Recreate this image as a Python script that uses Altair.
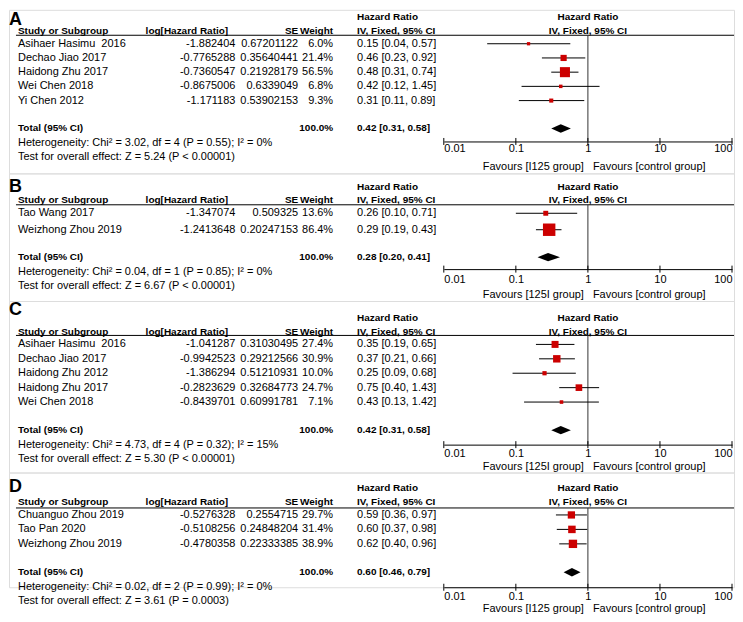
import altair as alt
import pandas as pd

FONT = "Liberation Sans"

# ---------------- data ----------------
a_study = ["Asihaer Hasimu\u00a0 2016", "Dechao Jiao 2017", "Haidong Zhu 2017", "Wei Chen 2018", "Yi Chen 2012"]
a_loghr = [-1.882404, -0.7765288, -0.7360547, -0.8675006, -1.171183]
a_se = ["0.67201122", "0.35640441", "0.21928179", "0.6339049", "0.53902153"]
a_weight = [6.0, 21.4, 56.5, 6.8, 9.3]
a_hr = [0.15, 0.46, 0.48, 0.42, 0.31]
a_lo = [0.04, 0.23, 0.31, 0.12, 0.11]
a_hi = [0.57, 0.92, 0.74, 1.45, 0.89]
a_total = [0.42, 0.31, 0.58]
a_het = "Heterogeneity: Chi\u00b2 = 3.02, df = 4 (P = 0.55); I\u00b2 = 0%"
a_test = "Test for overall effect: Z = 5.24 (P < 0.00001)"
a_fav = "Favours [I125 group]"

b_study = ["Tao Wang 2017", "Weizhong Zhou 2019"]
b_loghr = [-1.347074, -1.2413648]
b_se = ["0.509325", "0.20247153"]
b_weight = [13.6, 86.4]
b_hr = [0.26, 0.29]
b_lo = [0.10, 0.19]
b_hi = [0.71, 0.43]
b_total = [0.28, 0.20, 0.41]
b_het = "Heterogeneity: Chi\u00b2 = 0.04, df = 1 (P = 0.85); I\u00b2 = 0%"
b_test = "Test for overall effect: Z = 6.67 (P < 0.00001)"
b_fav = "Favours [125I group]"

c_study = ["Asihaer Hasimu\u00a0 2016", "Dechao Jiao 2017", "Haidong Zhu 2012", "Haidong Zhu 2017", "Wei Chen 2018"]
c_loghr = [-1.041287, -0.9942523, -1.386294, -0.2823629, -0.8439701]
c_se = ["0.31030495", "0.29212566", "0.51210931", "0.32684773", "0.60991781"]
c_weight = [27.4, 30.9, 10.0, 24.7, 7.1]
c_hr = [0.35, 0.37, 0.25, 0.75, 0.43]
c_lo = [0.19, 0.21, 0.09, 0.40, 0.13]
c_hi = [0.65, 0.66, 0.68, 1.43, 1.42]
c_total = [0.42, 0.31, 0.58]
c_het = "Heterogeneity: Chi\u00b2 = 4.73, df = 4 (P = 0.32); I\u00b2 = 15%"
c_test = "Test for overall effect: Z = 5.30 (P < 0.00001)"
c_fav = "Favours [125I group]"

d_study = ["Chuanguo Zhou 2019", "Tao Pan 2020", "Weizhong Zhou 2019"]
d_loghr = [-0.5276328, -0.5108256, -0.4780358]
d_se = ["0.2554715", "0.24848204", "0.22333385"]
d_weight = [29.7, 31.4, 38.9]
d_hr = [0.59, 0.60, 0.62]
d_lo = [0.36, 0.37, 0.40]
d_hi = [0.97, 0.98, 0.96]
d_total = [0.60, 0.46, 0.79]
d_het = "Heterogeneity: Chi\u00b2 = 0.02, df = 2 (P = 0.99); I\u00b2 = 0%"
d_test = "Test for overall effect: Z = 3.61 (P = 0.0003)"
d_fav = "Favours [I125 group]"

ticks = [0.01, 0.1, 1, 10, 100]

# ---------------- layout (pixels, image coords) ----------------
W = 727
XR = [436, 725]
FS = 11      # regular text size
FB = 10      # bold header size
layouts = {
    "A": dict(T=8, bottom=172, axis=140, y0=42, r=14.25, letter=18, hrhead=15, colhead=29, line=33.5,
              total=127, het=142, test=156, lab=1, fav=166, k=1.8),
    "B": dict(T=172, bottom=300, axis=268, y0=212, r=16.5, letter=186, hrhead=186, colhead=199, line=203.5,
              total=256, het=271, test=285, lab=4, fav=294, k=2.3),
    "C": dict(T=300, bottom=472, axis=444, y0=343.5, r=14.45, letter=309, hrhead=317, colhead=331, line=334.5,
              total=429.5, het=444, test=458, lab=3, fav=466, k=1.4),
    "D": dict(T=472, bottom=587, axis=587, y0=514.5, r=14.5, letter=486, hrhead=487, colhead=502, line=507.5,
              total=572, het=587, test=601, lab=3, fav=609, k=1.3),
}

one = pd.DataFrame({"k": [0]})


def txt(text, x, y, align="left", bold=False, size=FS):
    return alt.Chart(one).mark_text(
        text=text, align=align, baseline="middle", font=FONT, fontSize=size,
        fontWeight="bold" if bold else "normal", color="black"
    ).encode(x=alt.value(x), y=alt.value(y))


def panel(letter, study, loghr, se, weight, hr, lo, hi, total, het, test, fav):
    L = layouts[letter]
    T = L["T"]
    H = L["bottom"] - T
    AX = L["axis"] - T
    r = L["r"]
    off = L["y0"] - T
    ys = alt.Scale(domain=[(H - off) / r, -off / r], nice=False, zero=False)
    xs = alt.Scale(type="log", domain=[0.01, 100], range=XR, nice=False)
    xaxis = alt.Axis(values=ticks, format="~g", title=None, grid=False, ticks=False, tickSize=0,
                     domain=True, domainColor="black", domainWidth=1, labelPadding=L["lab"],
                     labelFont=FONT, labelFontSize=FS, labelColor="black", labelFlush=True,
                     labelOverlap=False, orient="bottom", offset=AX - H)

    n = len(study)
    df = pd.DataFrame({
        "row": list(range(n)),
        "study": study,
        "loghr": [repr(v) for v in loghr],
        "se": se,
        "w": [f"{v:.1f}%" for v in weight],
        "weight": weight,
        "hrci": [f"{a:.2f} [{b:.2f}, {c:.2f}]" for a, b, c in zip(hr, lo, hi)],
        "hr": hr, "lo": lo, "hi": hi,
    })
    trow = (L["total"] - L["y0"]) / r
    tot = pd.DataFrame({"row": [trow], "a": ["Total (95% CI)"], "b": ["100.0%"],
                        "c": [f"{total[0]:.2f} [{total[1]:.2f}, {total[2]:.2f}]"]})
    hh = 4.2 / r
    dia = pd.DataFrame({"x": [total[1], total[0], total[2]],
                        "y1": [trow, trow - hh, trow], "y2": [trow, trow + hh, trow]})
    tk = pd.DataFrame({"t": ticks})
    unit = pd.DataFrame({"v": [1]})

    Y = lambda f: alt.Y(f, scale=ys, axis=None)

    def col(field, x, align, bold=False, data=df):
        return alt.Chart(data).mark_text(
            align=align, baseline="middle", font=FONT, fontSize=FB if bold else FS,
            fontWeight="bold" if bold else "normal", color="black"
        ).encode(x=alt.value(x), y=Y("row:Q"), text=f"{field}:N")

    def ftxt(text, y, align="center", bold=False, dx=0):
        return alt.Chart(unit).mark_text(
            text=text, align=align, baseline="middle", font=FONT, fontSize=FB if bold else FS,
            fontWeight="bold" if bold else "normal", color="black", dx=dx
        ).encode(x=alt.X("v:Q", scale=xs, axis=xaxis), y=alt.value(y))

    layers = [
        alt.Chart(one).mark_rule(color="black", strokeWidth=1).encode(
            x=alt.value(7), x2=alt.value(W), y=alt.value(L["line"] - T)),
        alt.Chart(unit).mark_rule(color="#333333", strokeWidth=1).encode(
            x=alt.X("v:Q", scale=xs, axis=xaxis), y=alt.value(L["line"] - T), y2=alt.value(AX)),
        alt.Chart(tk).mark_rule(color="black", strokeWidth=1).encode(
            x=alt.X("t:Q", scale=xs, axis=xaxis), y=alt.value(AX - 3.5), y2=alt.value(AX + 3.5)),
        alt.Chart(df).mark_rule(color="black", strokeWidth=1).encode(
            x=alt.X("lo:Q", scale=xs, axis=xaxis), x2="hi:Q", y=Y("row:Q")),
        alt.Chart(df).mark_square(filled=True, color="#cc0000", opacity=1).encode(
            x=alt.X("hr:Q", scale=xs, axis=xaxis), y=Y("row:Q"),
            size=alt.Size("weight:Q", scale=alt.Scale(domain=[0, 100], range=[0, 100 * L["k"]]), legend=None)),
        alt.Chart(dia).mark_area(color="black", orient="vertical", opacity=1).encode(
            x=alt.X("x:Q", scale=xs, axis=xaxis), y=Y("y1:Q"), y2="y2:Q"),
        col("study", 9, "left"),
        col("loghr", 227, "right"),
        col("se", 290, "right"),
        col("w", 325, "right"),
        col("hrci", 349, "left"),
        col("a", 9, "left", True, tot),
        col("b", 325, "right", True, tot),
        col("c", 349, "left", True, tot),
        txt(letter, 0, L["letter"] - T, bold=True, size=18),
        txt("Hazard Ratio", 349, L["hrhead"] - T, bold=True, size=FB),
        txt("Study or Subgroup", 9, L["colhead"] - T, bold=True, size=FB),
        txt("log[Hazard Ratio]", 137, L["colhead"] - T, bold=True, size=FB),
        txt("SE", 290, L["colhead"] - T, align="right", bold=True, size=FB),
        txt("Weight", 325, L["colhead"] - T, align="right", bold=True, size=FB),
        txt("IV, Fixed, 95% CI", 349, L["colhead"] - T, bold=True, size=FB),
        txt(het, 9, L["het"] - T),
        txt(test, 9, L["test"] - T),
        ftxt("Hazard Ratio", L["hrhead"] - T, bold=True),
        ftxt("IV, Fixed, 95% CI", L["colhead"] - T, bold=True),
        ftxt(fav, L["fav"] - T, align="right", dx=-4),
        ftxt("Favours [control group]", L["fav"] - T, align="left", dx=5),
    ]
    return alt.layer(*layers).properties(width=W, height=H)


pA = panel("A", a_study, a_loghr, a_se, a_weight, a_hr, a_lo, a_hi, a_total, a_het, a_test, a_fav)
pB = panel("B", b_study, b_loghr, b_se, b_weight, b_hr, b_lo, b_hi, b_total, b_het, b_test, b_fav)
pC = panel("C", c_study, c_loghr, c_se, c_weight, c_hr, c_lo, c_hi, c_total, c_het, c_test, c_fav)
pD = panel("D", d_study, d_loghr, d_se, d_weight, d_hr, d_lo, d_hi, d_total, d_het, d_test, d_fav)

chart = alt.vconcat(pA, pB, pC, pD, spacing=0, bounds="flush").properties(
    padding={"left": 0, "top": 0, "right": 0, "bottom": 0}
).configure_view(stroke=None, fill="transparent").configure(background="white")

chart.save("out.html", embed_options={"renderer": "svg", "actions": False})
